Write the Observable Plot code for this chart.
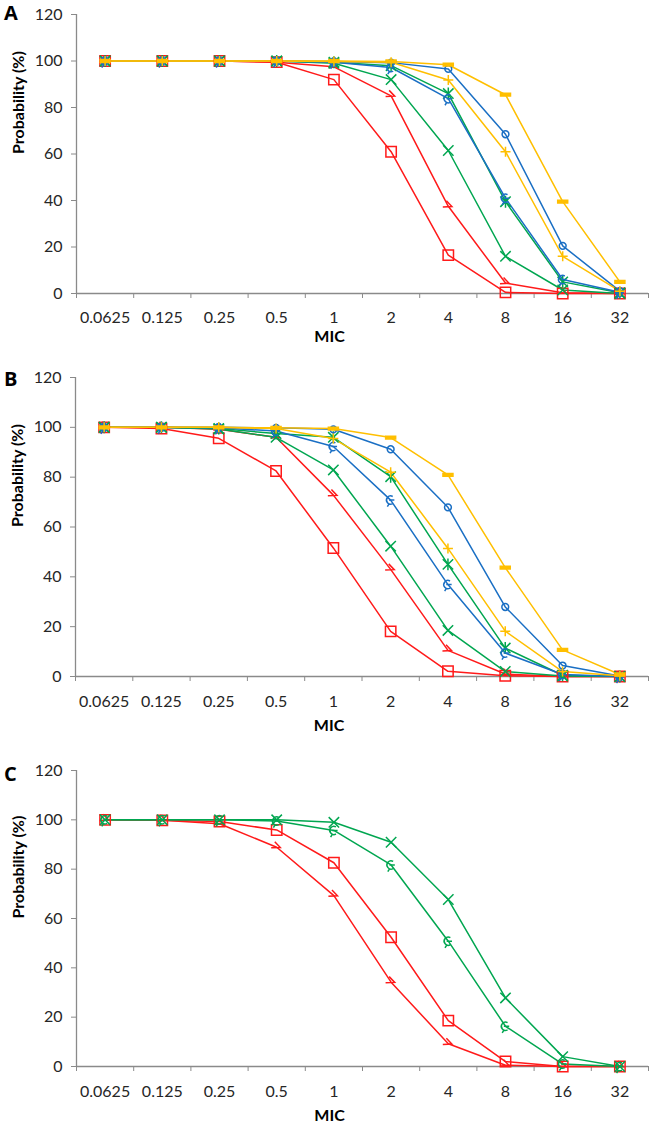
<!DOCTYPE html>
<html><head><meta charset="utf-8">
<script src="https://cdn.jsdelivr.net/npm/d3@7"></script>
<script src="https://cdn.jsdelivr.net/npm/@observablehq/plot@0.6"></script>
<style>
body{margin:0;background:#fff;}
#wrap{position:relative;width:650px;height:1128px;overflow:hidden;background:#fff;}
.panel{position:absolute;left:0;}
.letter{position:absolute;left:4px;font-weight:bold;font-size:20px;line-height:1;font-family:"Open Sans",Lato,sans-serif;color:#000;}
</style></head><body><div id="wrap"></div>
<script>
// ---- data ----
const mic = ["0.0625","0.125","0.25","0.5","1","2","4","8","16","32"];
const yTicks = [0,20,40,60,80,100,120];

// Panel A
const A_redSquare  = [100,100,100,99.5,92,61,16.5,0.5,0,0];
const A_redArrow   = [100,100,100,99.5,97.5,85,37.5,4.5,0.3,0];
const A_greenTimes = [100,100,100,100,99,92,61.5,16,1.5,0];
const A_greenStar  = [100,100,100,100,99.5,98,86,39.5,5,0.3];
const A_blueCircle = [100,100,100,100,99.8,99.3,96.6,68.5,20.5,1];
const A_blueHook   = [100,100,100,100,99.5,97.2,83.8,41,6,0.5];
const A_yellowPlus = [100,100,100,100,99.8,99.5,91.8,61,16,1];
const A_yellowDash = [100,100,100,100,100,99.8,98.4,85.5,39.5,5];

// Panel B
const B_redSquare  = [100,99.5,95.6,82.5,51.6,18.1,2.1,0.3,0,0];
const B_redArrow   = [100,100,99.2,96,72.8,43,10.5,1,0,0];
const B_greenTimes = [100,100,99.3,96,82.9,52.3,18.5,2,0.2,0];
const B_greenStar  = [100,100,99.5,97.5,96,80.2,45,11.4,0.5,0];
const B_blueCircle = [100,100,100,99.8,99.2,91.2,67.9,27.9,4.4,0.2];
const B_blueHook   = [100,100,99.8,98.5,92.3,70.8,36.9,9.4,0.8,0];
const B_yellowPlus = [100,100,100,99.5,95.5,82,51.4,18.2,2,0.3];
const B_yellowDash = [100,100,100,99.8,99.5,95.9,80.9,43.7,10.7,0.8];

// Panel C
const C_redSquare  = [100,99.8,99.3,95.9,82.6,52.4,18.6,2,0,0];
const C_redArrow   = [100,99.8,98.4,88.9,69.3,34.2,9.2,0.5,0,0];
const C_greenTimes = [100,100,100,100,99,90.9,67.7,27.8,4,0];
const C_greenHook  = [100,100,100,99.5,95.7,81.7,50.8,16.3,1,0];

// ---- styles ----
const RED = "#ff1a1a", GREEN = "#00a650", BLUE = "#1a6fc4", YELLOW = "#ffbf00";
const AXIS = "#8a8a8a", TEXT = "#262626";
const FONT = "Lato, 'Open Sans', sans-serif";
const FS = 16;

const rOf = s => Math.sqrt(s / Math.PI);
const SYM = {
  square: {draw(c, s){ const r = rOf(s); c.rect(-r, -r, 2*r, 2*r); }},
  circle: {draw(c, s){ const r = rOf(s); c.moveTo(r, 0); c.arc(0, 0, r, 0, 2*Math.PI); }},
  times:  {draw(c, s){ const r = rOf(s); c.moveTo(-r,-r); c.lineTo(r,r); c.moveTo(-r,r); c.lineTo(r,-r); }},
  star:   {draw(c, s){ const r = rOf(s); c.moveTo(-r,-r); c.lineTo(r,r); c.moveTo(-r,r); c.lineTo(r,-r); c.moveTo(0,-r*1.15); c.lineTo(0,r*1.15); }},
  plus:   {draw(c, s){ const r = rOf(s); c.moveTo(-r,0); c.lineTo(r,0); c.moveTo(0,-r); c.lineTo(0,r); }},
  dash:   {draw(c, s){ const r = rOf(s); c.rect(-r, -r*0.28, 2*r, r*0.56); }},
  arrow:  {draw(c, s){ const r = rOf(s); c.moveTo(-r*0.35, -r); c.lineTo(r*0.65, r*0.05); c.lineTo(-r, r*0.12); }},
  hook:   {draw(c, s){ const r = rOf(s)*0.75; const a = Math.PI/3;
            c.moveTo(r*Math.cos(-a), r*Math.sin(-a)); c.arc(0, 0, r, -a, a, true);
            c.moveTo(-r*0.4, 0); c.lineTo(r*0.9, 0); c.moveTo(-r*0.3, r*0.8); c.lineTo(-r*0.8, r*1.6); }}
};

const panels = [
  {letter:"A", top:0, letterTop:3, mt:14, frame:279, mb:60, ml:76, micDy:48, labPad:18,
   series:[
     {v:A_redSquare, c:RED, s:"square", r:5.2},
     {v:A_redArrow, c:RED, s:"arrow", r:5.5},
     {v:A_greenTimes, c:GREEN, s:"times", r:5.2},
     {v:A_greenStar, c:GREEN, s:"star", r:5.2},
     {v:A_blueCircle, c:BLUE, s:"circle", r:3.4},
     {v:A_blueHook, c:BLUE, s:"hook", r:5.5},
     {v:A_yellowPlus, c:YELLOW, s:"plus", r:5},
     {v:A_yellowDash, c:YELLOW, s:"dash", r:5, fill:true}
   ]},
  {letter:"B", top:360, letterTop:369, mt:17, frame:299, mb:64, ml:75, micDy:54, labPad:19,
   series:[
     {v:B_redSquare, c:RED, s:"square", r:5.2},
     {v:B_redArrow, c:RED, s:"arrow", r:5.5},
     {v:B_greenTimes, c:GREEN, s:"times", r:5.2},
     {v:B_greenStar, c:GREEN, s:"star", r:5.2},
     {v:B_blueCircle, c:BLUE, s:"circle", r:3.4},
     {v:B_blueHook, c:BLUE, s:"hook", r:5.5},
     {v:B_yellowPlus, c:YELLOW, s:"plus", r:5},
     {v:B_yellowDash, c:YELLOW, s:"dash", r:5, fill:true}
   ]},
  {letter:"C", top:750, letterTop:764, mt:20, frame:296, mb:62, ml:76, micDy:54, labPad:19,
   series:[
     {v:C_redSquare, c:RED, s:"square", r:5.2},
     {v:C_redArrow, c:RED, s:"arrow", r:5.5},
     {v:C_greenTimes, c:GREEN, s:"times", r:5.2},
     {v:C_greenHook, c:GREEN, s:"hook", r:5.5}
   ]}
];

const wrap = document.getElementById("wrap");
const centers = mic.map((_, i) => i + 0.5);
const bounds = d3.range(0, mic.length + 1);

for (const p of panels) {
  const marks = [
    Plot.axisY({ticks: yTicks, tickSize: 5, tickPadding: 9, stroke: AXIS, fill: TEXT, fontSize: FS, label: null}),
    Plot.axisX({ticks: bounds, tickSize: 5, tickFormat: () => "", stroke: AXIS, label: null}),
    Plot.axisX({ticks: centers, tickSize: 0, tickPadding: p.labPad, tickFormat: x => mic[Math.round(x - 0.5)], fill: TEXT, fontSize: FS, label: null}),
    Plot.ruleX([0], {y1: 0, y2: 120, stroke: AXIS, strokeWidth: 1.3}),
    Plot.ruleY([0], {stroke: AXIS, strokeWidth: 1.3}),
    Plot.text(["Probability (%)"], {frameAnchor: "left", dx: -58, rotate: -90, fontWeight: "bold", fontSize: FS, fill: "#000"}),
    Plot.text(["MIC"], {frameAnchor: "bottom", dx: -33, dy: p.micDy, fontWeight: "bold", fontSize: FS, fill: "#000"})
  ];
  for (const s of p.series) {
    const data = s.v.map((v, i) => ({x: i + 0.5, v}));
    marks.push(Plot.line(data, {x: "x", y: "v", stroke: s.c, strokeWidth: 1.5}));
  }
  for (const s of p.series) {
    const data = s.v.map((v, i) => ({x: i + 0.5, v}));
    marks.push(Plot.dot(data, {x: "x", y: "v", symbol: SYM[s.s], r: s.r, stroke: s.c, strokeWidth: 1.5,
      fill: s.fill ? s.c : "none"}));
  }
  const chart = Plot.plot({
    width: 650,
    height: p.mt + p.frame + p.mb,
    marginTop: p.mt, marginBottom: p.mb, marginLeft: p.ml, marginRight: 2,
    x: {domain: [0, mic.length], axis: null},
    y: {domain: [0, 120], axis: null},
    style: {fontFamily: FONT, fontSize: FS + "px", background: "transparent", overflow: "visible"},
    marks
  });
  const div = document.createElement("div");
  div.className = "panel";
  div.style.top = p.top + "px";
  div.appendChild(chart);
  wrap.appendChild(div);
  const L = document.createElement("div");
  L.className = "letter";
  L.style.top = p.letterTop + "px";
  L.textContent = p.letter;
  wrap.appendChild(L);
}
</script></body></html>
